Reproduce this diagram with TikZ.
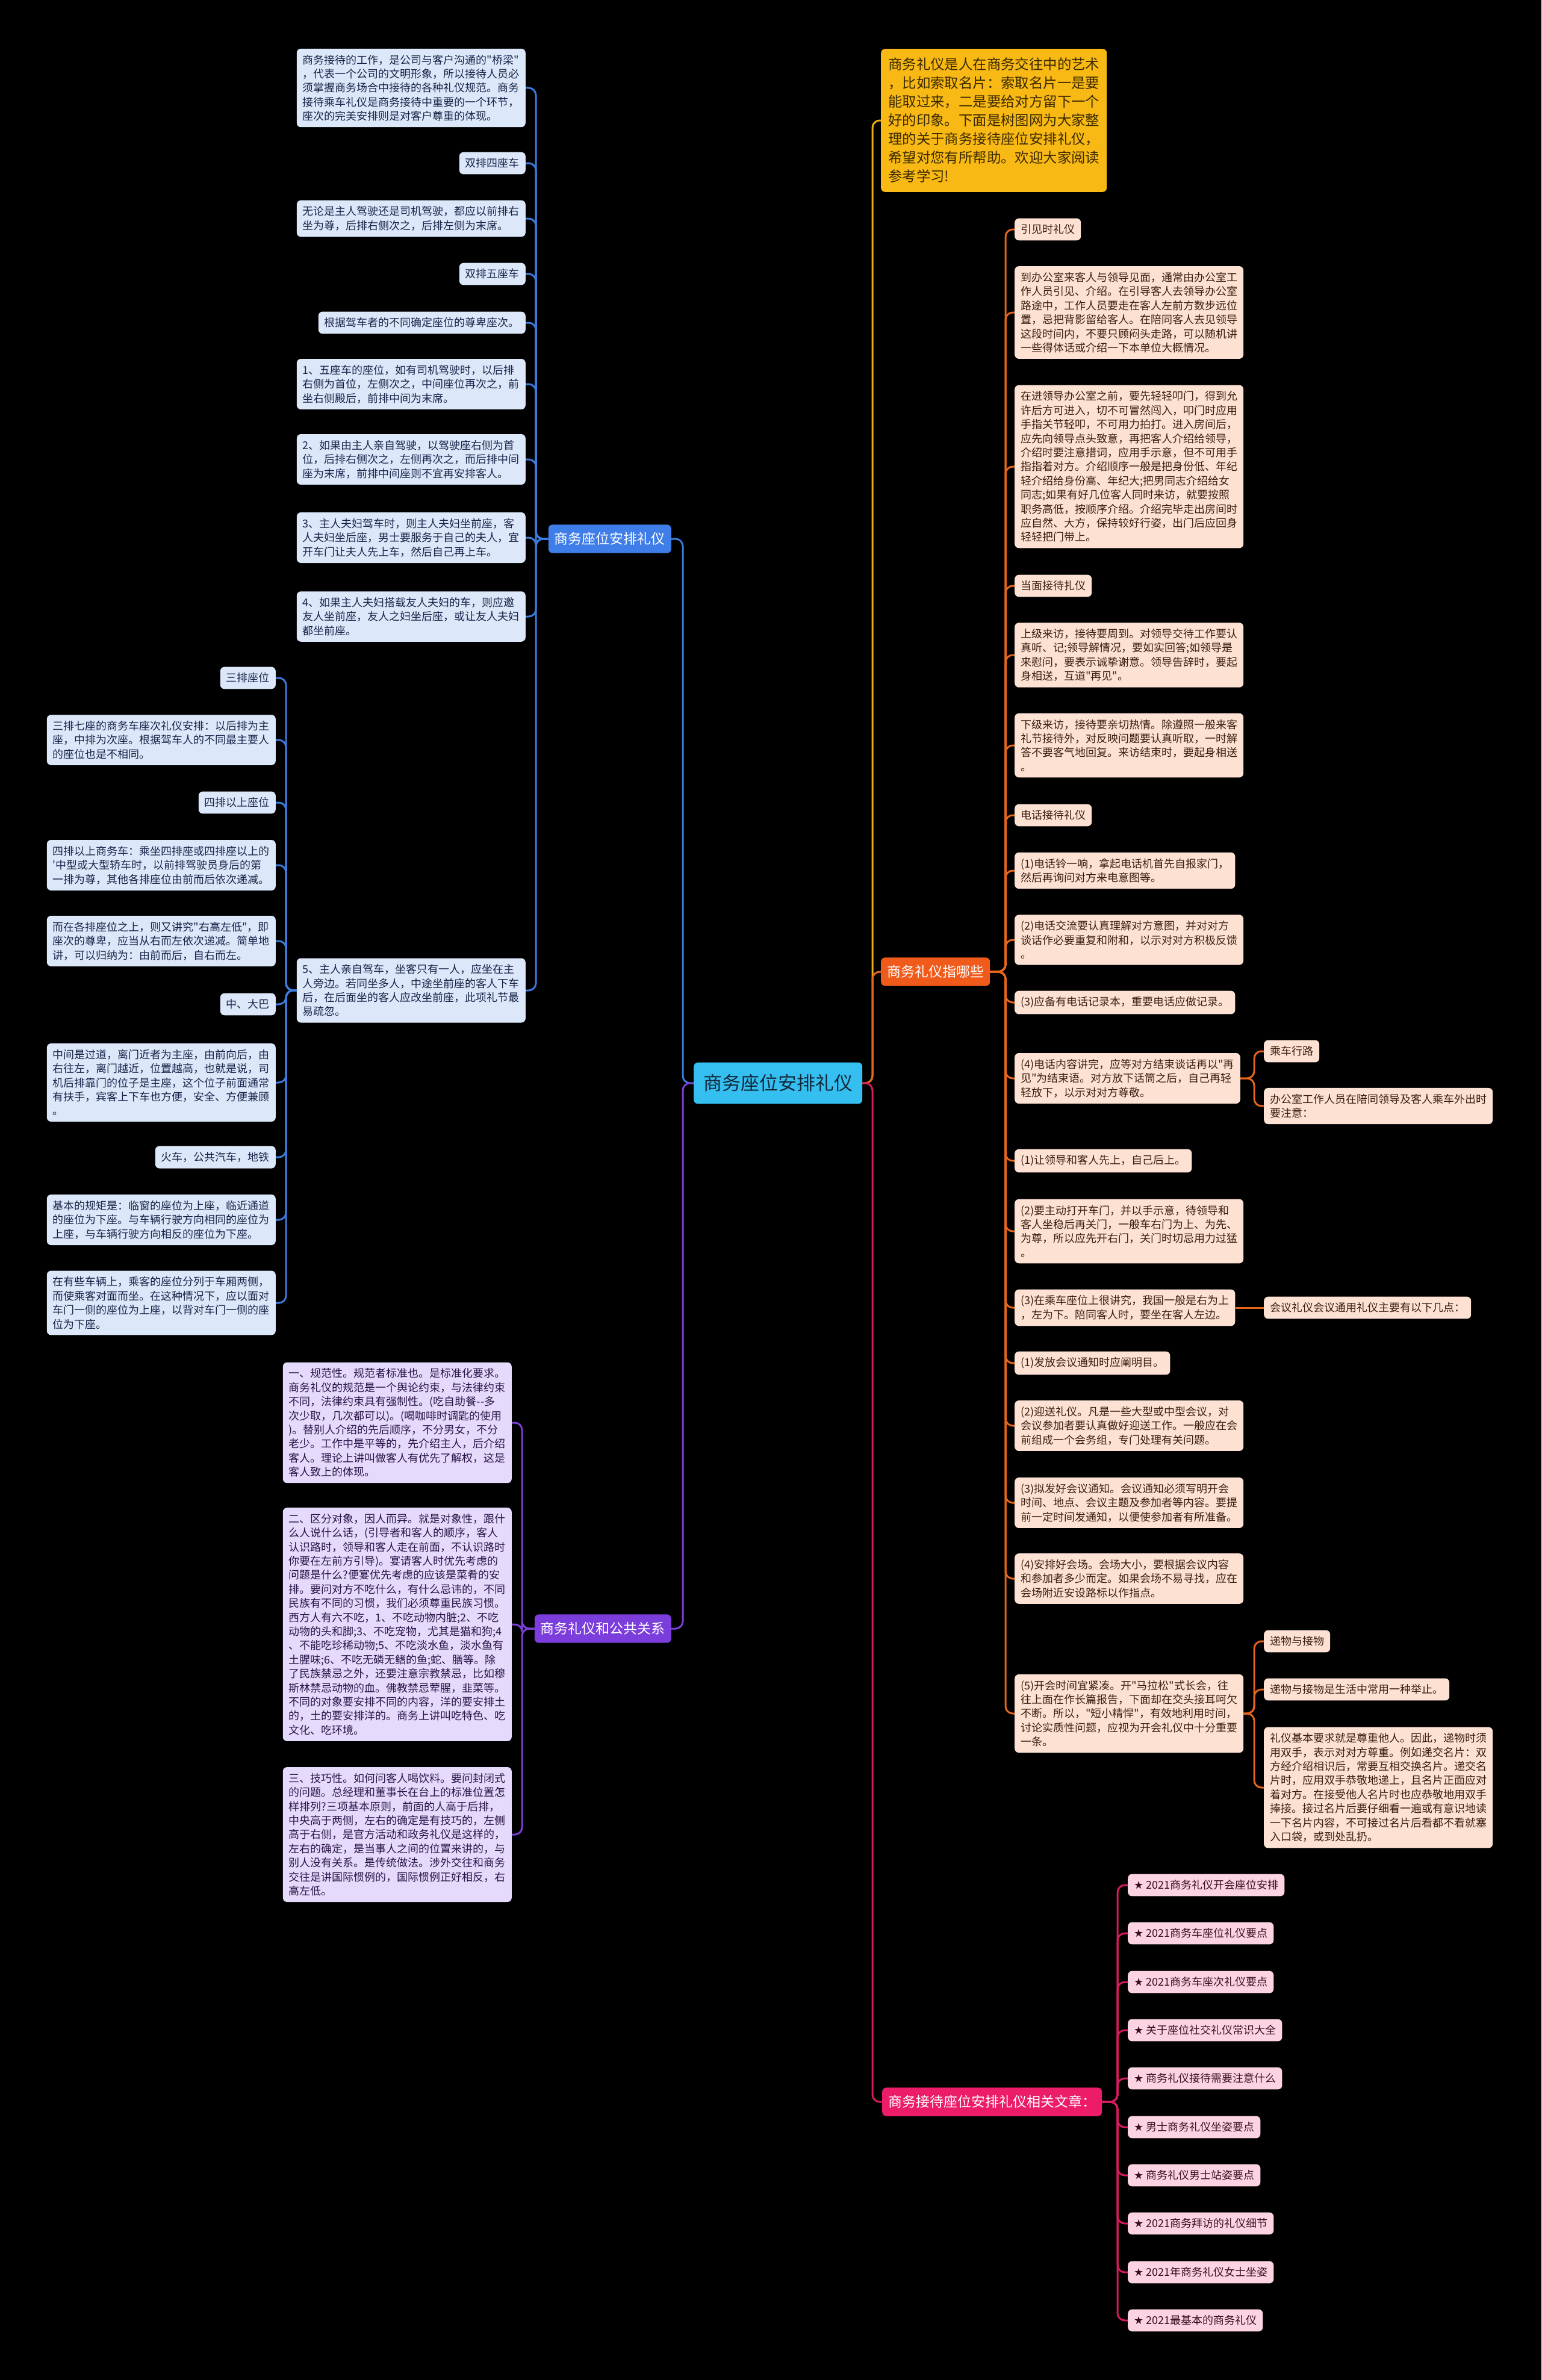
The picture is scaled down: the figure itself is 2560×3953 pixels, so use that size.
\documentclass[tikz,border=0pt]{standalone}
\usepackage{fontspec}
\setmainfont{Noto Sans CJK SC}[Ligatures=TeXOff]
\newfontfamily\symfont{DejaVu Sans}

\definecolor{bgblack}{HTML}{000000}
\definecolor{rootfill}{HTML}{35BFF0}
\definecolor{roottext}{HTML}{10283A}
\definecolor{bluemain}{HTML}{3F7EE8}
\definecolor{bluelink}{HTML}{3C7BDB}
\definecolor{bluefill}{HTML}{DCE7FA}
\definecolor{bluetext}{HTML}{172447}
\definecolor{purplemain}{HTML}{7B3DDB}
\definecolor{purplelink}{HTML}{7A3FD4}
\definecolor{purplefill}{HTML}{E5DAFB}
\definecolor{purpletext}{HTML}{2A1448}
\definecolor{orangemain}{HTML}{F05A1A}
\definecolor{orangelink}{HTML}{E5661C}
\definecolor{orangefill}{HTML}{FDE2D3}
\definecolor{orangetext}{HTML}{3A1E10}
\definecolor{yellowfill}{HTML}{F9B914}
\definecolor{yellowlink}{HTML}{E9AE12}
\definecolor{yellowtext}{HTML}{3A2A00}
\definecolor{pinkmain}{HTML}{EC1C68}
\definecolor{pinklink}{HTML}{D81B60}
\definecolor{pinkfill}{HTML}{FBD3E3}
\definecolor{pinktext}{HTML}{3A0F20}

\tikzset{
  leaf/.style={font=\fontsize{18}{23.4}\selectfont, align=left, rounded corners=7pt, inner xsep=10pt, inner ysep=10pt},
  blueleaf/.style={leaf, fill=bluefill, text=bluetext, anchor=east},
  purpleleaf/.style={leaf, fill=purplefill, text=purpletext, anchor=east},
  orangeleaf/.style={leaf, fill=orangefill, text=orangetext, anchor=west},
  pinkleaf/.style={leaf, fill=pinkfill, text=pinktext, anchor=west},
  mainbox/.style={font=\fontsize{23}{28}\selectfont, rounded corners=7pt, inner xsep=10pt, inner ysep=13pt, text=white},
  link/.style={line width=3pt, rounded corners=12pt},
}

\begin{document}
\begin{tikzpicture}[x=1pt, y=-1pt]
\fill[bgblack] (0,0) rectangle (2560,3953);
\useasboundingbox (0,0) rectangle (2560,3953);

% spines
\coordinate (lsp) at (1134,0);
\coordinate (rsp) at (1449,0);
\coordinate (bsp) at (890,0);
\coordinate (csp) at (475,0);
\coordinate (psp) at (867,0);
\coordinate (osp) at (1670,0);
\coordinate (qsp) at (2083,0);
\coordinate (ksp) at (1856,0);

% centre
\node[font=\fontsize{31}{36}\selectfont, fill=rootfill, text=roottext, rounded corners=7pt, inner xsep=16pt, inner ysep=20pt, anchor=west] (root) at (1152,1799) {商务座位安排礼仪};

% main branches
\node[mainbox, fill=bluemain, anchor=east] (bmain) at (1115,895) {商务座位安排礼仪};
\node[mainbox, fill=purplemain, anchor=east] (pmain) at (1115,2705) {商务礼仪和公共关系};
\node[font=\fontsize{23.4}{31}\selectfont, align=left, fill=yellowfill, text=yellowtext, rounded corners=7pt, inner xsep=12pt, inner ysep=15pt, anchor=west] (note) at (1463,200) {商务礼仪是人在商务交往中的艺术\\，比如索取名片：索取名片一是要\\能取过来，二是要给对方留下一个\\好的印象。下面是树图网为大家整\\理的关于商务接待座位安排礼仪，\\希望对您有所帮助。欢迎大家阅读\\参考学习!};
\node[mainbox, fill=orangemain, anchor=west] (omain) at (1463,1614) {商务礼仪指哪些};
\node[mainbox, fill=pinkmain, anchor=west] (kmain) at (1465,3491) {商务接待座位安排礼仪相关文章：};

% blue leaves
\node[blueleaf] (b1) at (873,146) {商务接待的工作，是公司与客户沟通的"桥梁"\\，代表一个公司的文明形象，所以接待人员必\\须掌握商务场合中接待的各种礼仪规范。商务\\接待乘车礼仪是商务接待中重要的一个环节，\\座次的完美安排则是对客户尊重的体现。};
\node[blueleaf] (b2) at (873,271) {双排四座车};
\node[blueleaf] (b3) at (873,363) {无论是主人驾驶还是司机驾驶，都应以前排右\\坐为尊，后排右侧次之，后排左侧为末席。};
\node[blueleaf] (b4) at (873,455) {双排五座车};
\node[blueleaf] (b5) at (873,536) {根据驾车者的不同确定座位的尊卑座次。};
\node[blueleaf] (b6) at (873,638) {1、五座车的座位，如有司机驾驶时，以后排\\右侧为首位，左侧次之，中间座位再次之，前\\坐右侧殿后，前排中间为末席。};
\node[blueleaf] (b7) at (873,763) {2、如果由主人亲自驾驶，以驾驶座右侧为首\\位，后排右侧次之，左侧再次之，而后排中间\\座为末席，前排中间座则不宜再安排客人。};
\node[blueleaf] (b8) at (873,893) {3、主人夫妇驾车时，则主人夫妇坐前座，客\\人夫妇坐后座，男士要服务于自己的夫人，宜\\开车门让夫人先上车，然后自己再上车。};
\node[blueleaf] (b9) at (873,1024) {4、如果主人夫妇搭载友人夫妇的车，则应邀\\友人坐前座，友人之妇坐后座，或让友人夫妇\\都坐前座。};
\node[blueleaf] (b10) at (873,1645) {5、主人亲自驾车，坐客只有一人，应坐在主\\人旁边。若同坐多人，中途坐前座的客人下车\\后，在后面坐的客人应改坐前座，此项礼节最\\易疏忽。};

\node[blueleaf] (c1) at (458,1126) {三排座位};
\node[blueleaf] (c2) at (458,1229) {三排七座的商务车座次礼仪安排：以后排为主\\座，中排为次座。根据驾车人的不同最主要人\\的座位也是不相同。};
\node[blueleaf] (c3) at (458,1333) {四排以上座位};
\node[blueleaf] (c4) at (458,1437) {四排以上商务车：乘坐四排座或四排座以上的\\'中型或大型轿车时，以前排驾驶员身后的第\\一排为尊，其他各排座位由前而后依次递减。};
\node[blueleaf] (c5) at (458,1563) {而在各排座位之上，则又讲究"右高左低"，即\\座次的尊卑，应当从右而左依次递减。简单地\\讲，可以归纳为：由前而后，自右而左。};
\node[blueleaf] (c6) at (458,1668) {中、大巴};
\node[blueleaf] (c7) at (458,1798) {中间是过道，离门近者为主座，由前向后，由\\右往左，离门越近，位置越高，也就是说，司\\机后排靠门的位子是主座，这个位子前面通常\\有扶手，宾客上下车也方便，安全、方便兼顾\\。};
\node[blueleaf] (c8) at (458,1922) {火车，公共汽车，地铁};
\node[blueleaf] (c9) at (458,2026) {基本的规矩是：临窗的座位为上座，临近通道\\的座位为下座。与车辆行驶方向相同的座位为\\上座，与车辆行驶方向相反的座位为下座。};
\node[blueleaf] (c10) at (458,2164) {在有些车辆上，乘客的座位分列于车厢两侧，\\而使乘客对面而坐。在这种情况下，应以面对\\车门一侧的座位为上座，以背对车门一侧的座\\位为下座。};

% purple leaves
\node[purpleleaf] (p1) at (850,2363) {一、规范性。规范者标准也。是标准化要求。\\商务礼仪的规范是一个舆论约束，与法律约束\\不同，法律约束具有强制性。(吃自助餐--多\\次少取，几次都可以)。(喝咖啡时调匙的使用\\)。替别人介绍的先后顺序，不分男女，不分\\老少。工作中是平等的，先介绍主人，后介绍\\客人。理论上讲叫做客人有优先了解权，这是\\客人致上的体现。};
\node[purpleleaf] (p2) at (850,2698) {二、区分对象，因人而异。就是对象性，跟什\\么人说什么话，(引导者和客人的顺序，客人\\认识路时，领导和客人走在前面，不认识路时\\你要在左前方引导)。宴请客人时优先考虑的\\问题是什么?便宴优先考虑的应该是菜肴的安\\排。要问对方不吃什么，有什么忌讳的，不同\\民族有不同的习惯，我们必须尊重民族习惯。\\西方人有六不吃，1、不吃动物内脏;2、不吃\\动物的头和脚;3、不吃宠物，尤其是猫和狗;4\\、不能吃珍稀动物;5、不吃淡水鱼，淡水鱼有\\土腥味;6、不吃无磷无鳍的鱼;蛇、膳等。除\\了民族禁忌之外，还要注意宗教禁忌，比如穆\\斯林禁忌动物的血。佛教禁忌荤腥，韭菜等。\\不同的对象要安排不同的内容，洋的要安排土\\的，土的要安排洋的。商务上讲叫吃特色、吃\\文化、吃环境。};
\node[purpleleaf] (p3) at (850,3047) {三、技巧性。如何问客人喝饮料。要问封闭式\\的问题。总经理和董事长在台上的标准位置怎\\样排列?三项基本原则，前面的人高于后排，\\中央高于两侧，左右的确定是有技巧的，左侧\\高于右侧，是官方活动和政务礼仪是这样的，\\左右的确定，是当事人之间的位置来讲的，与\\别人没有关系。是传统做法。涉外交往和商务\\交往是讲国际惯例的，国际惯例正好相反，右\\高左低。};

% orange leaves
\node[orangeleaf] (o1) at (1685,381) {引见时礼仪};
\node[orangeleaf] (o2) at (1685,519) {到办公室来客人与领导见面，通常由办公室工\\作人员引见、介绍。在引导客人去领导办公室\\路途中，工作人员要走在客人左前方数步远位\\置，忌把背影留给客人。在陪同客人去见领导\\这段时间内，不要只顾闷头走路，可以随机讲\\一些得体话或介绍一下本单位大概情况。};
\node[orangeleaf] (o3) at (1685,775) {在进领导办公室之前，要先轻轻叩门，得到允\\许后方可进入，切不可冒然闯入，叩门时应用\\手指关节轻叩，不可用力拍打。进入房间后，\\应先向领导点头致意，再把客人介绍给领导，\\介绍时要注意措词，应用手示意，但不可用手\\指指着对方。介绍顺序一般是把身份低、年纪\\轻介绍给身份高、年纪大;把男同志介绍给女\\同志;如果有好几位客人同时来访，就要按照\\职务高低，按顺序介绍。介绍完毕走出房间时\\应自然、大方，保持较好行姿，出门后应回身\\轻轻把门带上。};
\node[orangeleaf] (o4) at (1685,973) {当面接待扎仪};
\node[orangeleaf] (o5) at (1685,1088) {上级来访，接待要周到。对领导交待工作要认\\真听、记;领导解情况，要如实回答;如领导是\\来慰问，要表示诚挚谢意。领导告辞时，要起\\身相送，互道"再见"。};
\node[orangeleaf] (o6) at (1685,1238) {下级来访，接待要亲切热情。除遵照一般来客\\礼节接待外，对反映问题要认真听取，一时解\\答不要客气地回复。来访结束时，要起身相送\\。};
\node[orangeleaf] (o7) at (1685,1354) {电话接待礼仪};
\node[orangeleaf] (o8) at (1685,1446) {(1)电话铃一响，拿起电话机首先自报家门，\\然后再询问对方来电意图等。};
\node[orangeleaf] (o9) at (1685,1561) {(2)电话交流要认真理解对方意图，并对对方\\谈话作必要重复和附和，以示对对方积极反馈\\。};
\node[orangeleaf] (o10) at (1685,1665) {(3)应备有电话记录本，重要电话应做记录。};
\node[orangeleaf] (o11) at (1685,1791) {(4)电话内容讲完，应等对方结束谈话再以"再\\见"为结束语。对方放下话筒之后，自己再轻\\轻放下，以示对对方尊敬。};
\node[orangeleaf] (o12) at (1685,1928) {(1)让领导和客人先上，自己后上。};
\node[orangeleaf] (o13) at (1685,2045) {(2)要主动打开车门，并以手示意，待领导和\\客人坐稳后再关门，一般车右门为上、为先、\\为尊，所以应先开右门，关门时切忌用力过猛\\。};
\node[orangeleaf] (o14) at (1685,2172) {(3)在乘车座位上很讲究，我国一般是右为上\\，左为下。陪同客人时，要坐在客人左边。};
\node[orangeleaf] (o15) at (1685,2264) {(1)发放会议通知时应阐明目。};
\node[orangeleaf] (o16) at (1685,2368) {(2)迎送礼仪。凡是一些大型或中型会议，对\\会议参加者要认真做好迎送工作。一般应在会\\前组成一个会务组，专门处理有关问题。};
\node[orangeleaf] (o17) at (1685,2496) {(3)拟发好会议通知。会议通知必须写明开会\\时间、地点、会议主题及参加者等内容。要提\\前一定时间发通知，以便使参加者有所准备。};
\node[orangeleaf] (o18) at (1685,2622) {(4)安排好会场。会场大小，要根据会议内容\\和参加者多少而定。如果会场不易寻找，应在\\会场附近安设路标以作指点。};
\node[orangeleaf] (o19) at (1685,2846) {(5)开会时间宜紧凑。开"马拉松"式长会，往\\往上面在作长篇报告，下面却在交头接耳呵欠\\不断。所以，"短小精悍"，有效地利用时间，\\讨论实质性问题，应视为开会礼仪中十分重要\\一条。};

\node[orangeleaf] (q1) at (2099,1746) {乘车行路};
\node[orangeleaf] (q2) at (2099,1837) {办公室工作人员在陪同领导及客人乘车外出时\\要注意：};
\node[orangeleaf] (q3) at (2099,2172) {会议礼仪会议通用礼仪主要有以下几点：};
\node[orangeleaf] (q4) at (2099,2726) {递物与接物};
\node[orangeleaf] (q5) at (2099,2806) {递物与接物是生活中常用一种举止。};
\node[orangeleaf] (q6) at (2099,2969) {礼仪基本要求就是尊重他人。因此，递物时须\\用双手，表示对对方尊重。例如递交名片：双\\方经介绍相识后，常要互相交换名片。递交名\\片时，应用双手恭敬地递上，且名片正面应对\\着对方。在接受他人名片时也应恭敬地用双手\\捧接。接过名片后要仔细看一遍或有意识地读\\一下名片内容，不可接过名片后看都不看就塞\\入口袋，或到处乱扔。};

% pink leaves
\node[pinkleaf] (k1) at (1873,3131) {{\symfont ★} 2021商务礼仪开会座位安排};
\node[pinkleaf] (k2) at (1873,3211) {{\symfont ★} 2021商务车座位礼仪要点};
\node[pinkleaf] (k3) at (1873,3292) {{\symfont ★} 2021商务车座次礼仪要点};
\node[pinkleaf] (k4) at (1873,3372) {{\symfont ★} 关于座位社交礼仪常识大全};
\node[pinkleaf] (k5) at (1873,3452) {{\symfont ★} 商务礼仪接待需要注意什么};
\node[pinkleaf] (k6) at (1873,3533) {{\symfont ★} 男士商务礼仪坐姿要点};
\node[pinkleaf] (k7) at (1873,3613) {{\symfont ★} 商务礼仪男士站姿要点};
\node[pinkleaf] (k8) at (1873,3693) {{\symfont ★} 2021商务拜访的礼仪细节};
\node[pinkleaf] (k9) at (1873,3774) {{\symfont ★} 2021年商务礼仪女士坐姿};
\node[pinkleaf] (k10) at (1873,3854) {{\symfont ★} 2021最基本的商务礼仪};

% connectors
\draw[link, bluelink] (root.west) -- (root.west -| lsp) |- (bmain.east);
\draw[link, purplelink] (root.west) -- (root.west -| lsp) |- (pmain.east);
\draw[link, yellowlink] (root.east) -- (root.east -| rsp) |- (note.west);
\draw[link, orangelink] (root.east) -- (root.east -| rsp) |- (omain.west);
\draw[link, pinklink] (root.east) -- (root.east -| rsp) |- (kmain.west);

\foreach \i in {1,...,10}
  \draw[link, bluelink] (bmain.west) -- (bmain.west -| bsp) |- (b\i.east);
\foreach \i in {1,...,10}
  \draw[link, bluelink] (b10.west) -- (b10.west -| csp) |- (c\i.east);
\foreach \i in {1,2,3}
  \draw[link, purplelink] (pmain.west) -- (pmain.west -| psp) |- (p\i.east);
\foreach \i in {1,...,19}
  \draw[link, orangelink] (omain.east) -- (omain.east -| osp) |- (o\i.west);
\foreach \i in {1,2}
  \draw[link, orangelink] (o11.east) -- (o11.east -| qsp) |- (q\i.west);
\draw[link, orangelink] (o14.east) -- (q3.west);
\foreach \i in {4,5,6}
  \draw[link, orangelink] (o19.east) -- (o19.east -| qsp) |- (q\i.west);
\foreach \i in {1,...,10}
  \draw[link, pinklink] (kmain.east) -- (kmain.east -| ksp) |- (k\i.west);
\end{tikzpicture}
\end{document}
